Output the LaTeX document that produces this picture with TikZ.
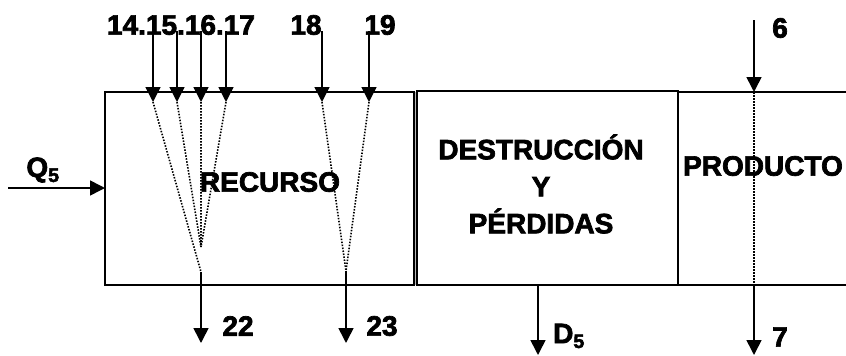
\documentclass[tikz,border=0pt]{standalone}
\usepackage{fontspec}
\setmainfont{Liberation Sans}
\newfontfamily\heavyfont{Liberation Sans}[BoldFeatures={FakeBold=2.5}]
\usetikzlibrary{arrows.meta, calc}

\begin{document}
\begin{tikzpicture}[x=1pt, y=-1pt]
  \tikzset{lbl/.style={font=\fontsize{28}{37}\selectfont\heavyfont\bfseries, inner sep=0pt},
    flow/.style={-{Triangle[width=15pt, length=15pt]}, line width=1.6pt},
    link/.style={dash pattern=on 1.5pt off 1.5pt, line width=1.6pt},
    wall/.style={line width=1.6pt}}
  \useasboundingbox (0,0) rectangle (846,356);

  % Boxes
  \fill[gray!55] (414,92) rectangle (417,285);
  \draw[wall] (105,92) rectangle (414,285);
  \draw[wall] (417,91) rectangle (678,285);
  \draw[wall] (678,92) -- (846,92) (678,285) -- (846,285);
  \node[lbl] (recurso) at (270,182) {RECURSO};
  \node[lbl, align=center] (destr) at (541,184) {DESTRUCCIÓN\\Y\\PÉRDIDAS};
  \node[lbl] (producto) at (763,166) {PRODUCTO};

  % Q5 into the box
  \coordinate (q0) at (8,188); \coordinate (q1) at (105,188);
  \draw[flow] (q0) -- (q1);
  \node[lbl] (qlbl) at (43,170) {Q\textsubscript{5}};

  % Inputs on top
  \node[lbl] (in1417) at (181,25) {14.15.16.17};
  \node[lbl] (in18) at (306,25) {18};
  \node[lbl] (in19) at (380,25) {19};
  \coordinate (s14) at (153,31); \coordinate (t14) at (153,102);
  \coordinate (s15) at (177,31); \coordinate (t15) at (177,102);
  \coordinate (s16) at (201,31); \coordinate (t16) at (201,102);
  \coordinate (s17) at (226,31); \coordinate (t17) at (226,102);
  \coordinate (s18) at (322,31); \coordinate (t18) at (322,102);
  \coordinate (s19) at (369,31); \coordinate (t19) at (369,102);
  \foreach \k in {14,15,16,17,18,19} {
    \draw[flow] (s\k) -- (t\k);
  }

  % Merging inside recurso
  \coordinate (m1) at (201,247); \coordinate (m22) at (201,272);
  \coordinate (m23) at (346,271);
  \draw[link] (t14) -- (m22);
  \draw[link] (t15) -- (m1) (t16) -- (m1) (t17) -- (m1);
  \draw[link] (t18) -- (m23) (t19) -- (m23);

  % Outputs
  \coordinate (e22) at (201,343); \coordinate (e23) at (346,343);
  \draw[flow] (m22) -- (e22);
  \draw[flow] (m23) -- (e23);
  \node[lbl] (out22) at (238,326) {22};
  \node[lbl] (out23) at (382,326) {23};
  \coordinate (d0) at (538,285); \coordinate (d1) at (538,355);
  \draw[flow] (d0) -- (d1);
  \node[lbl] (dlbl) at (569,336) {D\textsubscript{5}};

  % Producto 6 -> 7
  \coordinate (p0) at (754,20); \coordinate (p1) at (754,92);
  \coordinate (p2) at (754,285); \coordinate (p3) at (754,355);
  \draw[flow] (p0) -- (p1);
  \draw[link, line width=1.2pt] (p1) -- (p2);
  \draw[flow] (p2) -- (p3);
  \node[lbl] (in6) at (780,28) {6};
  \node[lbl] (out7) at (780,337) {7};
\end{tikzpicture}
\end{document}
